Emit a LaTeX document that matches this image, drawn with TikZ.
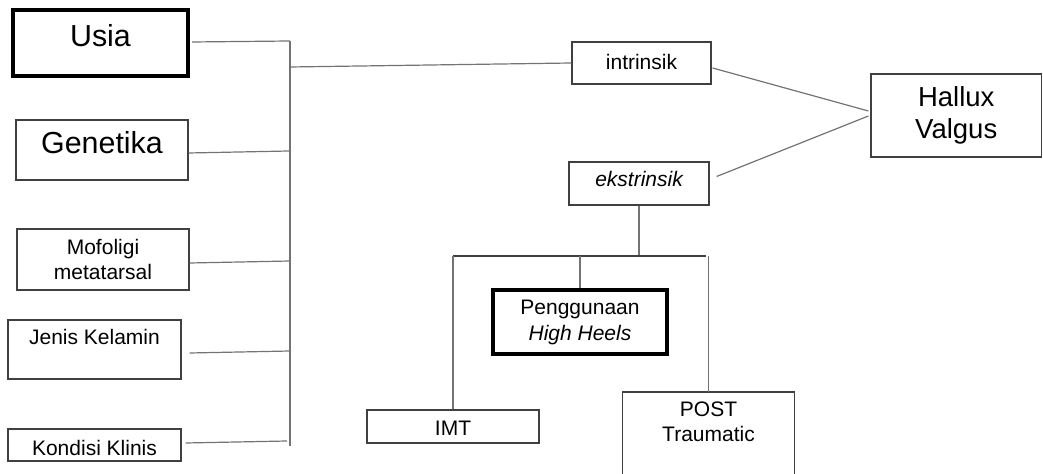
\documentclass[tikz,border=0pt]{standalone}
\usepackage{fontspec}
\setmainfont{Liberation Sans}
\usetikzlibrary{calc}
\definecolor{boxc}{gray}{0.25}
\definecolor{linec}{gray}{0.45}
\newcommand\fszA{\fontsize{10.5}{12.5}\selectfont}
\newcommand\fszB{\fontsize{15.2}{17}\selectfont}
\newcommand\fszC{\fontsize{13.75}{16}\selectfont}
\begin{document}
\begin{tikzpicture}[x=0.5pt,y=-0.5pt,
  bx/.style={draw=boxc, line width=0.6pt, inner sep=0pt, align=center, font=\fszA},
  bigbx/.style={bx, font=\fszB},
  thickbx/.style={draw=black, line width=2pt},
  conn/.style={draw=linec, line width=0.6pt},
  barline/.style={draw=black!75, line width=1.1pt}]
\useasboundingbox (0,0) rectangle (1043,474);

% left column
\node[bigbx, thickbx, minimum width=87.5pt, text height=18.5pt, text depth=14.5pt] (usia) at (100.5,43) {Usia};
\node[bigbx, minimum width=86pt, text height=17pt, text depth=13pt] (gen) at (102,150) {Genetika};
\node[bx, minimum width=86pt, minimum height=30.5pt] (mof) at (103,259.5) {Mofoligi\\metatarsal};
\node[bx, minimum width=86.5pt, text height=12.5pt, text depth=17pt] (jenis) at (94.5,349.5) {Jenis Kelamin};
\node[bx, minimum width=86.5pt, text height=13.5pt, text depth=2.5pt] (kond) at (94.5,445) {Kondisi Klinis};

% right part
\node[bx, minimum width=69.5pt, text height=14pt, text depth=7pt] (intr) at (641.5,63) {intrinsik};
\node[bx, minimum width=85.25pt, minimum height=41.5pt, font=\fszC] (hv) at (956.25,115.5) {Hallux\\Valgus};
\node[bx, minimum width=70pt, text height=12.5pt, text depth=9pt] (ekst) at (639,183.5) {\itshape ekstrinsik};
\node[bx, thickbx, minimum width=87pt, minimum height=32pt, font=\fontsize{10.5}{13}\selectfont] (hh) at (580,322) {Penggunaan\\\itshape High Heels};
\node[bx, minimum width=86pt, text height=13pt, text depth=3.5pt] (imt) at (453,426.5) {IMT};
\node[inner xsep=0pt, inner ysep=4.85pt, align=center, font=\fszA, minimum width=85.5pt, anchor=north] (post) at (708.5,392) {POST\\Traumatic};
\coordinate (pbot) at (0,474);
\draw[draw=boxc, line width=0.6pt] (post.north west |- pbot) -- (post.north west) -- (post.north east) -- (post.north east |- pbot);

% bus on the left
\coordinate (btop) at (290,41);
\coordinate (bbot) at (290,446);
\coordinate (bint) at (290,67);
\coordinate (bgen) at (289,151);
\coordinate (bmof) at (290,261);
\coordinate (bjen) at (290,351);
\coordinate (bkon) at (287,441);
\draw[conn] (btop) -- (bbot);
\draw[conn] ($(usia.east)+(2,-1)$) -- (btop);
\draw[conn] (gen.east |- 0,153) -- (bgen);
\draw[conn] (mof.east |- 0,263) -- (bmof);
\draw[conn] ($(jenis.east)+(8,3.5)$) -- (bjen);
\draw[conn] ($(kond.east)+(4,-2)$) -- (bkon);
\draw[conn] (bint) -- (intr.west);

% to Hallux Valgus
\draw[conn] ($(intr.east)+(1,5)$) -- ($(hv.west)+(-2,-4.5)$);
\draw[conn] ($(ekst.east)+(7,-7)$) -- ($(hv.west)+(-2,0.5)$);

% ekstrinsik tree
\coordinate (bl) at (453,256);
\coordinate (bm) at (580,256);
\coordinate (be) at (639,256);
\coordinate (br) at (706,256);
\coordinate (bp) at (708.5,256);
\draw[conn] (ekst.south) -- (be);
\draw[barline] (bl) -- (br);
\draw[conn] (bl) -- (imt.north);
\draw[conn] (bm) -- (hh.north);
\draw[conn] (bp) -- (post.north);
\end{tikzpicture}
\end{document}
